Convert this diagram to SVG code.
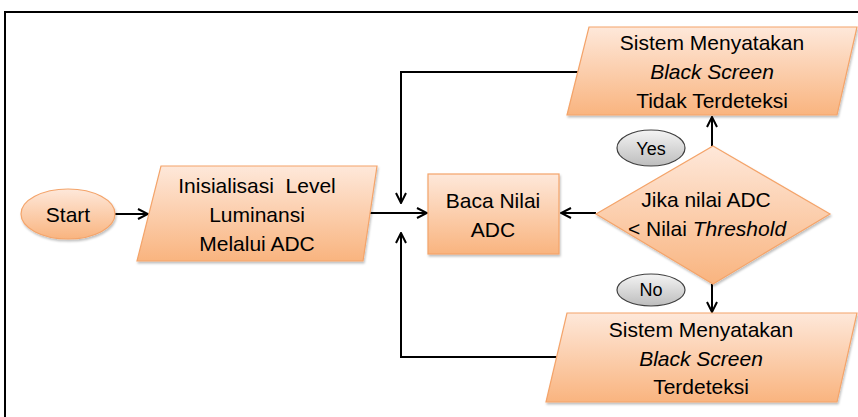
<svg xmlns="http://www.w3.org/2000/svg" width="858" height="417" viewBox="0 0 858 417">
<defs>
<linearGradient id="og" x1="0" y1="0" x2="0" y2="1">
<stop offset="0" stop-color="#fee8da"/>
<stop offset="1" stop-color="#f9b47f"/>
</linearGradient>
<linearGradient id="gg" x1="0" y1="0" x2="0" y2="1">
<stop offset="0" stop-color="#f4f4f4"/>
<stop offset="1" stop-color="#bdbdbd"/>
</linearGradient>
<filter id="sh" x="-10%" y="-10%" width="130%" height="140%">
<feDropShadow dx="1" dy="2" stdDeviation="1.2" flood-color="#000" flood-opacity="0.25"/>
</filter>
<marker id="arr" viewBox="0 0 12 12" refX="11" refY="6" markerWidth="12" markerHeight="12" orient="auto" markerUnits="userSpaceOnUse">
<path d="M1,1 L11,6 L1,11" fill="none" stroke="#000" stroke-width="2"/>
</marker>
</defs>
<style>
.sh{fill:url(#og);stroke:#f4a46a;stroke-width:1.2;filter:url(#sh)}
.lb{fill:url(#gg);stroke:#404040;stroke-width:1.2}
text{font-family:"Liberation Sans",Arial,sans-serif;font-size:21px;fill:#000;text-anchor:middle}
.i{font-style:italic}
.s{font-size:18px}
.c{fill:none;stroke:#000;stroke-width:2;marker-end:url(#arr)}
</style>
<rect x="0" y="0" width="858" height="417" fill="#fff"/>
<path d="M5,417 L5,12 L858,12" fill="none" stroke="#000" stroke-width="2"/>

<g id="connectors">
<path class="c" d="M115,214 L148,214"/>
<path class="c" d="M368,213 L427,213"/>
<path class="c" d="M596,213 L561,213"/>
<path class="c" d="M712,146 L712,117"/>
<path class="c" d="M712,284 L712,312"/>
<path class="c" d="M578,72 L401,72 L401,203"/>
<path class="c" d="M557,357 L401,357 L401,233"/>
</g>

<g id="start">
<ellipse class="sh" cx="68" cy="214" rx="47" ry="25"/>
<text x="68" y="222">Start</text>
</g>

<g id="inisialisasi">
<polygon class="sh" points="161,166 377,166 363,261 137,261"/>
<text x="257" y="193" xml:space="preserve">Inisialisasi  Level</text>
<text x="257" y="222">Luminansi</text>
<text x="257" y="251">Melalui ADC</text>
</g>

<g id="baca">
<rect class="sh" x="428" y="174" width="131" height="80"/>
<text x="493" y="208">Baca Nilai</text>
<text x="493" y="237">ADC</text>
</g>

<g id="decision">
<polygon class="sh" points="713,146 830,214 713,284 596,214"/>
<text x="706" y="207">Jika nilai ADC</text>
<text x="707" y="236">&lt; Nilai <tspan class="i">Threshold</tspan></text>
</g>

<g id="tidak">
<polygon class="sh" points="589,27 857,27 837,115 567,115"/>
<text x="712" y="50">Sistem Menyatakan</text>
<text x="712" y="79" class="i">Black Screen</text>
<text x="712" y="108">Tidak Terdeteksi</text>
</g>

<g id="terdeteksi">
<polygon class="sh" points="567,313 857,313 837,402 546,402"/>
<text x="701" y="337">Sistem Menyatakan</text>
<text x="701" y="366" class="i">Black Screen</text>
<text x="701" y="394">Terdeteksi</text>
</g>

<g id="yes">
<ellipse class="lb" cx="651" cy="148" rx="34" ry="18"/>
<text x="651" y="155" class="s">Yes</text>
</g>

<g id="no">
<ellipse class="lb" cx="651" cy="290" rx="34" ry="16"/>
<text x="651" y="296" class="s">No</text>
</g>
</svg>
